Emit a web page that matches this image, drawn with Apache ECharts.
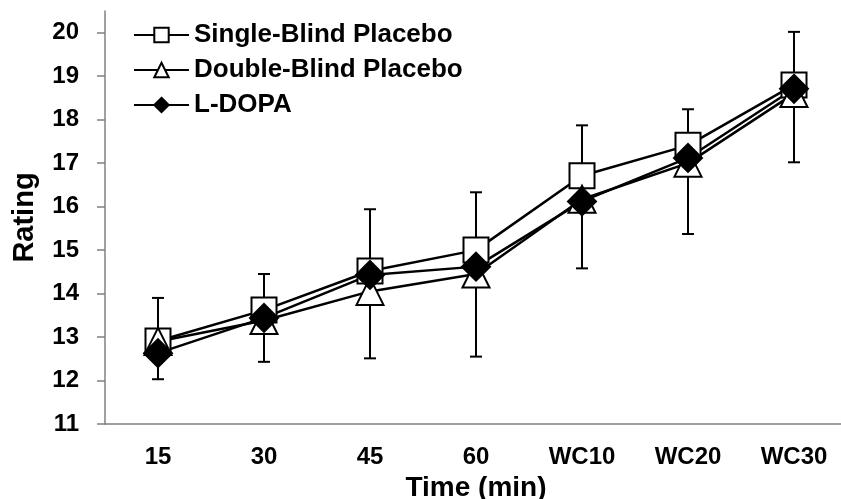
<!DOCTYPE html>
<html>
<head>
<meta charset="utf-8">
<script src="https://cdn.jsdelivr.net/npm/echarts@6/dist/echarts.min.js"></script>
<style>
  html, body { margin: 0; padding: 0; background: #fff; }
  #main { width: 841px; height: 499px; }
</style>
</head>
<body>
<div id="main"></div>
<script>
const times = ['15', '30', '45', '60', 'WC10', 'WC20', 'WC30']
const singleBlind = [12.91, 13.62, 14.52, 15.0, 16.71, 17.41, 18.8]
const doubleBlind = [12.9, 13.38, 14.05, 14.45, 16.17, 17.0, 18.6]
const lDopa = [12.63, 13.44, 14.43, 14.62, 16.12, 17.12, 18.71]
const errLow = [12.03, 12.43, 12.51, 12.55, 14.58, 15.37, 17.02]
const errHigh = [13.9, 14.45, 15.94, 16.33, 17.87, 18.24, 20.02]
const yTicks = [11, 12, 13, 14, 15, 16, 17, 18, 19, 20]

const font = "'Liberation Sans', Arial, sans-serif"
const axisGrey = '#808080'

const chart = echarts.init(document.getElementById('main'))

const errData = times.map((t, i) => [i, errLow[i], errHigh[i]])

const lineSeries = (name, data, symbol, size, fill) => ({
  name: name,
  type: 'line',
  data: data,
  symbol: symbol,
  symbolSize: size,
  showAllSymbol: true,
  lineStyle: { color: '#000', width: 2.5 },
  itemStyle: { color: fill, borderColor: '#000', borderWidth: 2 },
  emphasis: { disabled: true },
  z: 3
})

chart.setOption({
  animation: false,
  grid: { left: 105, right: -6, top: 11, bottom: 75, containLabel: false, outerBoundsMode: 'none' },
  legend: {
    orient: 'vertical',
    left: 128,
    top: 17,
    itemWidth: 55,
    itemHeight: 18,
    itemGap: 9,
    textStyle: { fontFamily: font, fontWeight: 'bold', fontSize: 26, color: '#000' },
    data: ['Single-Blind Placebo', 'Double-Blind Placebo', 'L-DOPA']
  },
  xAxis: {
    type: 'category',
    data: times,
    boundaryGap: true,
    name: 'Time (min)',
    nameLocation: 'middle',
    nameGap: 44,
    nameTextStyle: { fontFamily: font, fontWeight: 'bold', fontSize: 28, color: '#000' },
    axisLine: { lineStyle: { color: axisGrey, width: 1.5 } },
    axisTick: { length: 8, lineStyle: { color: axisGrey, width: 1.5 } },
    axisLabel: { margin: 21, fontFamily: font, fontWeight: 'bold', fontSize: 24, color: '#000' }
  },
  yAxis: {
    type: 'value',
    min: 11,
    max: 20.5,
    name: 'Rating',
    nameLocation: 'middle',
    nameGap: 66,
    nameRotate: 90,
    nameTextStyle: { fontFamily: font, fontWeight: 'bold', fontSize: 29, color: '#000' },
    splitLine: { show: false },
    axisLine: { show: true, lineStyle: { color: axisGrey, width: 1.5 } },
    axisTick: { show: true, length: 8, customValues: yTicks, lineStyle: { color: axisGrey, width: 1.5 } },
    axisLabel: { margin: 26, customValues: yTicks, fontFamily: font, fontWeight: 'bold', fontSize: 24, color: '#000' }
  },
  series: [
    {
      type: 'custom',
      name: 'error',
      data: errData,
      z: 2,
      silent: true,
      renderItem: (params, api) => {
        const x = api.value(0)
        const lo = api.coord([x, api.value(1)])
        const hi = api.coord([x, api.value(2)])
        const cap = 6
        const style = { stroke: '#000', lineWidth: 2 }
        return {
          type: 'group',
          children: [
            { type: 'line', shape: { x1: lo[0], y1: lo[1], x2: hi[0], y2: hi[1] }, style: style },
            { type: 'line', shape: { x1: lo[0] - cap, y1: lo[1], x2: lo[0] + cap, y2: lo[1] }, style: style },
            { type: 'line', shape: { x1: hi[0] - cap, y1: hi[1], x2: hi[0] + cap, y2: hi[1] }, style: style }
          ]
        }
      }
    },
    lineSeries('Single-Blind Placebo', singleBlind, 'rect', 25, '#fff'),
    lineSeries('Double-Blind Placebo', doubleBlind, 'triangle', 27, '#fff'),
    lineSeries('L-DOPA', lDopa, 'diamond', 28, '#000')
  ]
})
</script>
</body>
</html>
